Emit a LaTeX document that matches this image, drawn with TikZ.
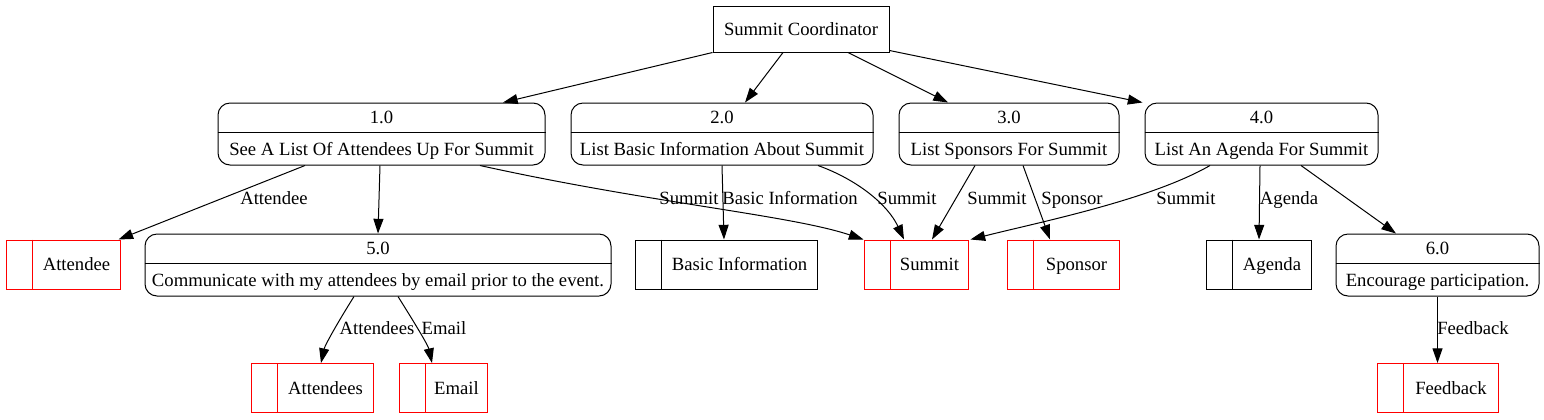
\documentclass[tikz,border=0pt]{standalone}
\usepackage{fontspec}
\setmainfont{Liberation Serif}
\usetikzlibrary{arrows.meta,calc}
\begin{document}
\begin{tikzpicture}[x=0.75pt,y=-0.75pt,
  font=\fontsize{14pt}{16pt}\selectfont,
  ent/.style={draw=black,line width=0.75pt,inner sep=0pt,minimum width=132pt,minimum height=34.5pt},
  proc/.style={draw=black,line width=0.75pt,rounded corners=9pt,inner sep=0pt,minimum height=46.5pt},
  store/.style={draw=black,line width=0.75pt,inner sep=0pt,minimum height=36.75pt},
  redstore/.style={store,draw=red},
  flow/.style={draw=black,line width=0.75pt,-{Triangle[length=11pt,width=7.5pt]}},
  lbl/.style={inner sep=0pt,anchor=base}
]
\useasboundingbox (0,0) rectangle (1544,419);

% external entity
\node[ent] (SC) at (801,29) {};
\node[lbl] (SCt) at (801,35) {Summit Coordinator};

% processes
\node[proc,minimum width=245.25pt] (p1) at (381.5,134) {};
\node[proc,minimum width=226.5pt] (p2) at (722,134) {};
\node[proc,minimum width=165pt] (p3) at (1009,134) {};
\node[proc,minimum width=174.75pt] (p4) at (1261.5,134) {};
\node[proc,minimum width=349.5pt] (p5) at (378,265) {};
\node[proc,minimum width=152.25pt] (p6) at (1437.5,265) {};

\foreach \p/\n/\t in {p1/1.0/See A List Of Attendees Up For Summit,
                      p2/2.0/List Basic Information About Summit,
                      p3/3.0/List Sponsors For Summit,
                      p4/4.0/List An Agenda For Summit,
                      p5/5.0/Communicate with my attendees by email prior to the event.,
                      p6/6.0/Encourage participation.}{
  \draw[line width=0.75pt] ([shift={(0,30)}]\p.north west) -- ([shift={(0,30)}]\p.north east);
  \node[lbl] (\p n) at ([shift={(0,21)}]\p.north) {\n};
  \node[lbl] (\p t) at ([shift={(0,52.5)}]\p.north) {\t};
}

% data stores
\node[redstore,minimum width=85.5pt] (att) at (63,264.5) {};
\node[store,minimum width=136.5pt] (bi) at (726,264.5) {};
\node[redstore,minimum width=78pt] (sum) at (916,264.5) {};
\node[redstore,minimum width=84pt] (sp) at (1063,264.5) {};
\node[store,minimum width=78.75pt] (ag) at (1258.5,264.5) {};
\node[redstore,minimum width=91.5pt] (atts) at (312,388) {};
\node[redstore,minimum width=66pt] (em) at (443,388) {};
\node[redstore,minimum width=90.75pt] (fb) at (1437.5,388) {};

\foreach \s/\t/\c in {att/Attendee/red, bi/Basic Information/black, sum/Summit/red,
                      sp/Sponsor/red, ag/Agenda/black, atts/Attendees/red,
                      em/Email/red, fb/Feedback/red}{
  \draw[line width=0.75pt,draw=\c] ([shift={(27,0)}]\s.north west) -- ([shift={(27,0)}]\s.south west);
  \node[lbl] (\s l) at ($([shift={(27,6)}]\s.west)!0.5!([shift={(0,6)}]\s.east)$) {\t};
}

% flows from coordinator
\draw[flow] (SC.south west) -- ([shift={(121.5,0)}]p1.north);
\draw[flow] ([shift={(-18,0)}]SC.south) -- ([shift={(23,0)}]p2.north);
\draw[flow] ([shift={(47,0)}]SC.south) -- ([shift={(-61,0)}]p3.north);
\draw[flow] ([shift={(0,-2)}]SC.south east) -- ([shift={(-2,0)}]p4.north west);

% flows from 1.0
\draw[flow] ([shift={(-76.5,0)}]p1.south) -- ([shift={(-2,0)}]att.north east);
\draw[flow] ([shift={(-1.5,0)}]p1.south) -- (p5.north);
\draw[flow] ([shift={(98.5,0)}]p1.south) .. controls (650,203) and (790,215) .. (sum.north west);

% flows from 2.0
\draw[flow] (p2.south) -- ([shift={(-2,0)}]bi.north);
\draw[flow] ([shift={(96,0)}]p2.south) .. controls (858,180) and (888,205) .. ([shift={(-12,0)}]sum.north);

% flows from 3.0
\draw[flow] ([shift={(-34,0)}]p3.south) -- ([shift={(16,0)}]sum.north);
\draw[flow] ([shift={(14,0)}]p3.south) -- ([shift={(-13,0)}]sp.north);

% flows from 4.0
\draw[flow] ([shift={(-51.5,0)}]p4.south) .. controls (1150,200) and (1040,222) .. ([shift={(2,0)}]sum.north east);
\draw[flow] ([shift={(-1.5,0)}]p4.south) -- ([shift={(0.5,0)}]ag.north);
\draw[flow] ([shift={(39.5,0)}]p4.south) -- ([shift={(-41.5,0)}]p6.north);

% flows from 5.0 and 6.0
\draw[flow] ([shift={(-24,0)}]p5.south) .. controls (338,322) and (325,345) .. ([shift={(9,0)}]atts.north);
\draw[flow] ([shift={(20,0)}]p5.south) .. controls (414,322) and (428,345) .. ([shift={(-11,0)}]em.north);
\draw[flow] (p6.south) -- (fb.north);

% flow labels
\node[lbl] (l1) at (274,204) {Attendee};
\node[lbl] (l2) at (689,204) {Summit};
\node[lbl] (l3) at (790,204) {Basic Information};
\node[lbl] (l4) at (907,204) {Summit};
\node[lbl] (l5) at (997,204) {Summit};
\node[lbl] (l6) at (1072,204) {Sponsor};
\node[lbl] (l7) at (1186,204) {Summit};
\node[lbl] (l8) at (1289,204) {Agenda};
\node[lbl] (l9) at (377,334) {Attendees};
\node[lbl] (l10) at (444,334) {Email};
\node[lbl] (l11) at (1473,334) {Feedback};
\end{tikzpicture}
\end{document}
